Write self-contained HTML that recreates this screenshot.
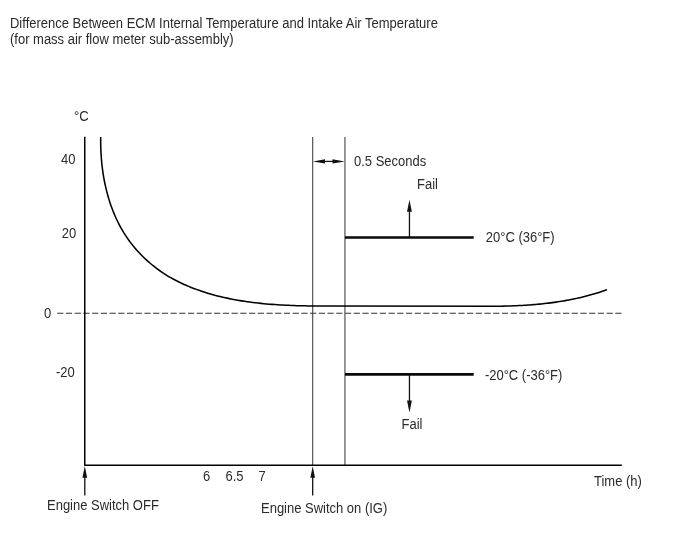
<!DOCTYPE html>
<html>
<head>
<meta charset="utf-8">
<style>
html,body{margin:0;padding:0;background:#fff;}
body{width:688px;height:560px;overflow:hidden;font-family:"Liberation Sans",sans-serif;}
svg{display:block;will-change:transform;}
text{font-family:"Liberation Sans",sans-serif;font-size:13px;fill:#2b2b2b;}
</style>
</head>
<body>
<svg width="688" height="560" viewBox="0 0 688 560">
<rect width="688" height="560" fill="#fff"/>
<text transform="translate(10 28) scale(1 1.06)">Difference Between ECM Internal Temperature and Intake Air Temperature</text>
<text transform="translate(10 44) scale(1 1.06)">(for mass air flow meter sub-assembly)</text>
<text transform="translate(74 120.7) scale(1 1.06)">°C</text>
<text transform="translate(61 164) scale(1 1.06)">40</text>
<text transform="translate(61.7 237.8) scale(1 1.06)">20</text>
<text transform="translate(44 317.5) scale(1 1.06)">0</text>
<text transform="translate(56 377) scale(1 1.06)">-20</text>
<text transform="translate(203 481) scale(1 1.06)">6</text>
<text transform="translate(225.5 481) scale(1 1.06)">6.5</text>
<text transform="translate(258.5 481) scale(1 1.06)">7</text>
<text transform="translate(594 485.9) scale(1 1.06)">Time (h)</text>
<text transform="translate(47 510) scale(1 1.06)">Engine Switch OFF</text>
<text transform="translate(261.0 513.2) scale(1 1.06)">Engine Switch on (IG)</text>
<text transform="translate(354 166) scale(1 1.06)">0.5 Seconds</text>
<text transform="translate(417 189) scale(1 1.06)">Fail</text>
<text transform="translate(401.5 429) scale(1 1.06)">Fail</text>
<text transform="translate(485.8 242) scale(1 1.06)">20°C (36°F)</text>
<text transform="translate(484.9 380) scale(1 1.06)">-20°C (-36°F)</text>

<!-- dashed zero line -->
<line x1="57.2" y1="313.3" x2="621.7" y2="313.3" stroke="#333" stroke-width="1.1" stroke-dasharray="6.2 2.52"/>

<!-- thin vertical lines -->
<line x1="312.7" y1="137" x2="312.7" y2="465" stroke="#444" stroke-width="1.1"/>
<line x1="344.95" y1="137" x2="344.95" y2="465" stroke="#444" stroke-width="1.1"/>

<!-- axes -->
<path d="M84.75 136.7 V465.25 H621.8" fill="none" stroke="#000" stroke-width="1.5" stroke-linejoin="round"/>

<!-- curve -->
<path id="curve" d="M100.71 137.06 L100.69 139.77 L100.69 142.49 L100.73 145.23 L100.80 147.97 L100.90 150.71 L101.04 153.46 L101.21 156.22 L101.41 158.98 L101.65 161.74 L101.93 164.50 L102.25 167.26 L102.60 170.01 L102.99 172.77 L103.42 175.52 L103.88 178.26 L104.39 181.00 L104.94 183.73 L105.53 186.45 L106.16 189.16 L106.83 191.86 L107.54 194.55 L108.30 197.22 L109.10 199.88 L109.94 202.52 L110.83 205.15 L111.76 207.76 L112.74 210.34 L113.77 212.91 L114.84 215.45 L115.97 217.98 L117.14 220.47 L118.35 222.95 L119.62 225.39 L120.94 227.81 L122.31 230.20 L123.73 232.56 L125.20 234.88 L126.72 237.18 L128.29 239.44 L129.91 241.67 L131.58 243.86 L133.30 246.02 L135.07 248.14 L136.87 250.23 L138.73 252.27 L140.63 254.28 L142.57 256.25 L144.55 258.18 L146.57 260.07 L148.63 261.92 L150.73 263.72 L152.86 265.48 L155.04 267.20 L157.24 268.87 L159.48 270.50 L161.76 272.08 L164.07 273.62 L166.40 275.10 L168.77 276.54 L171.17 277.93 L173.59 279.27 L176.04 280.56 L178.51 281.81 L181.01 283.02 L183.52 284.18 L186.06 285.30 L188.61 286.38 L191.17 287.42 L193.75 288.42 L196.35 289.39 L198.95 290.32 L201.56 291.21 L204.19 292.07 L206.82 292.90 L209.46 293.69 L212.11 294.45 L214.77 295.18 L217.43 295.88 L220.11 296.55 L222.79 297.19 L225.47 297.80 L228.17 298.38 L230.87 298.93 L233.58 299.46 L236.29 299.96 L239.01 300.43 L241.73 300.88 L244.46 301.31 L247.20 301.71 L249.93 302.09 L252.68 302.44 L255.42 302.78 L258.17 303.09 L260.93 303.39 L263.68 303.66 L266.44 303.91 L269.20 304.15 L271.96 304.37 L274.73 304.57 L277.50 304.75 L280.26 304.92 L283.03 305.08 L285.80 305.22 L288.57 305.34 L291.34 305.46 L294.11 305.56 L296.87 305.65 L299.64 305.72 L302.41 305.79 L305.17 305.85 L307.93 305.90 L310.69 305.94 L313.45 305.97 L316.21 306.00 L318.96 306.02 L321.71 306.03 L324.45 306.04 L327.19 306.04 L329.93 306.04 L498.02 306.20 L499.89 306.18 L501.76 306.15 L503.63 306.11 L505.50 306.07 L507.37 306.02 L509.24 305.97 L511.12 305.91 L512.99 305.84 L514.86 305.77 L516.74 305.69 L518.61 305.60 L520.49 305.51 L522.36 305.40 L524.23 305.29 L526.11 305.18 L527.98 305.05 L529.86 304.92 L531.73 304.78 L533.60 304.63 L535.47 304.47 L537.35 304.30 L539.22 304.13 L541.09 303.94 L542.95 303.75 L544.82 303.55 L546.69 303.33 L548.55 303.11 L550.42 302.88 L552.28 302.63 L554.14 302.38 L556.00 302.11 L557.85 301.84 L559.71 301.55 L561.56 301.26 L563.41 300.95 L565.26 300.63 L567.11 300.30 L568.95 299.95 L570.79 299.60 L572.63 299.23 L574.47 298.85 L576.30 298.46 L578.13 298.05 L579.96 297.64 L581.78 297.21 L583.60 296.76 L585.42 296.31 L587.24 295.83 L589.05 295.35 L590.85 294.85 L592.66 294.34 L594.46 293.81 L596.25 293.27 L598.05 292.72 L599.83 292.15 L601.62 291.56 L603.40 290.96 L605.17 290.35 L606.94 289.71" fill="none" stroke="#000" stroke-width="1.55" stroke-linejoin="round"/>

<!-- thick bars -->
<line x1="345" y1="237.5" x2="473.7" y2="237.5" stroke="#0a0a0a" stroke-width="2.7"/>
<line x1="345" y1="374.4" x2="473.7" y2="374.4" stroke="#0a0a0a" stroke-width="2.7"/>

<!-- double arrow -->
<line x1="320" y1="161.4" x2="338" y2="161.4" stroke="#111" stroke-width="1.2"/>
<polygon points="312.9,161.4 325,159.3 325,163.5" fill="#111"/>
<polygon points="344.7,161.4 332.5,159.3 332.5,163.5" fill="#111"/>

<!-- fail up arrow -->
<line x1="409.45" y1="210" x2="409.45" y2="237" stroke="#111" stroke-width="1.3"/>
<polygon points="409.45,199.8 407,211.7 411.9,211.7" fill="#111"/>
<!-- fail down arrow -->
<line x1="409.45" y1="375" x2="409.45" y2="402" stroke="#111" stroke-width="1.3"/>
<polygon points="409.45,412.4 407,400.6 411.9,400.6" fill="#111"/>

<!-- bottom arrows -->
<line x1="84.8" y1="476" x2="84.8" y2="495.5" stroke="#111" stroke-width="1.3"/>
<polygon points="84.8,466 82.45,477.7 87.15,477.7" fill="#111"/>
<line x1="312.7" y1="476" x2="312.7" y2="495.5" stroke="#111" stroke-width="1.3"/>
<polygon points="312.7,466.2 310.35,477.7 315.05,477.7" fill="#111"/>
</svg>
</body>
</html>
